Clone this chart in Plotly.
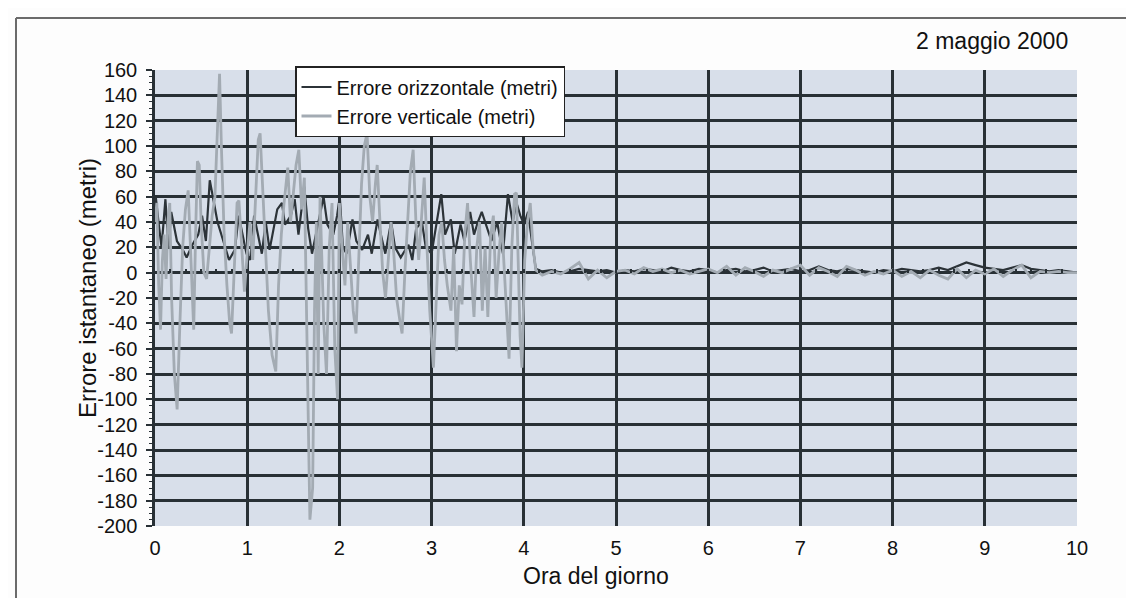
import plotly.graph_objects as go

# ---------------- data ----------------
# Errore orizzontale (metri) - SA attiva fino a ~4.1 h
H_HOURS = [0.0, 0.008, 0.038, 0.071, 0.113, 0.146, 0.176, 0.238, 0.301, 0.343, 0.406, 0.469,
           0.510, 0.552, 0.594, 0.636, 0.678, 0.741, 0.803, 0.866, 0.908, 0.950, 0.992, 1.033,
           1.075, 1.117, 1.159, 1.201, 1.243, 1.326, 1.377, 1.410, 1.473, 1.515, 1.556, 1.619,
           1.661, 1.703, 1.745, 1.828, 1.870, 1.933, 1.975, 2.004, 2.038, 2.079, 2.142, 2.184,
           2.247, 2.310, 2.351, 2.414, 2.456, 2.498, 2.561, 2.603, 2.665, 2.749, 2.791, 2.833,
           2.895, 2.937, 3.000, 3.042, 3.105, 3.146, 3.209, 3.251, 3.314, 3.356, 3.418, 3.460,
           3.502, 3.544, 3.586, 3.649, 3.711, 3.774, 3.828, 3.879, 3.921, 3.962, 4.004, 4.046,
           4.088, 4.130]
H_VALUES = [42, 60, 40, 20, 58, 20, 48, 25, 18, 12, 22, 30,
            45, 25, 73, 55, 40, 25, 10, 18, 45, 30, 15, 10,
            45, 30, 15, 40, 18, 50, 55, 38, 45, 58, 30, 68,
            35, 15, 30, 60, 38, 30, 45, 60, 20, 15, 42, 25,
            18, 30, 15, 42, 28, 15, 40, 20, 12, 22, 10, 35,
            40, 20, 15, 35, 62, 30, 42, 15, 38, 25, 48, 30,
            40, 48, 38, 25, 40, 15, 62, 40, 55, 45, 38, 48,
            25, 3]

# Errore verticale (metri)
V_HOURS = [0.00, 0.02, 0.04, 0.06, 0.08, 0.10, 0.12, 0.14, 0.16, 0.18, 0.21, 0.24, 0.27, 0.30,
           0.33, 0.36, 0.39, 0.42, 0.44, 0.46, 0.48, 0.50, 0.53, 0.56, 0.59, 0.62, 0.65, 0.68,
           0.70, 0.72, 0.75, 0.78, 0.81, 0.83, 0.86, 0.89, 0.91, 0.94, 0.97, 1.00, 1.03, 1.06,
           1.09, 1.12, 1.14, 1.17, 1.20, 1.23, 1.27, 1.31, 1.34, 1.37, 1.40, 1.44, 1.47, 1.50,
           1.53, 1.56, 1.59, 1.62, 1.65, 1.68, 1.71, 1.73, 1.75, 1.77, 1.79, 1.81, 1.83, 1.86,
           1.89, 1.92, 1.95, 1.98, 2.00, 2.03, 2.06, 2.09, 2.12, 2.15, 2.18, 2.21, 2.24, 2.27,
           2.30, 2.33, 2.36, 2.39, 2.41, 2.44, 2.47, 2.50, 2.53, 2.56, 2.59, 2.62, 2.66, 2.68,
           2.71, 2.74, 2.77, 2.80, 2.83, 2.86, 2.89, 2.92, 2.95, 2.98, 3.02, 3.05, 3.08, 3.11,
           3.14, 3.17, 3.21, 3.24, 3.27, 3.30, 3.33, 3.36, 3.39, 3.42, 3.46, 3.49, 3.52, 3.55,
           3.58, 3.61, 3.64, 3.67, 3.70, 3.73, 3.76, 3.79, 3.82, 3.84, 3.87, 3.90, 3.92, 3.94,
           3.96, 3.98, 4.01, 4.04, 4.07, 4.10, 4.13]
V_VALUES = [40, 55, -10, -45, 10, 30, -5, 40, 55, -20, -80, -108, -40, 20,
            50, 65, 10, -45, 30, 88, 85, 40, 0, -5, 20, 45, 60, 120,
            157, 100, 30, -10, -40, -48, 10, 55, 57, 20, -15, 15, 40, 10,
            60, 105, 110, 60, 20, -30, -65, -78, -10, 30, 55, 83, 40, 60,
            85, 97, 50, 75, -60, -195, -170, -30, 40, -80, 60, 10, -40, -80,
            20, 55, -60, -100, 55, 20, -10, 40, 0, -30, -48, 20, 70, 100,
            110, 60, 40, 70, 85, 40, 0, -20, 10, 40, 15, -20, -40, -48,
            0, 45, 80, 97, 40, 10, 45, 75, 20, -30, -75, -20, 30, 40,
            10, -10, -30, 20, -62, -10, -25, 30, 55, 10, -35, 20, 40, -30,
            20, -35, 30, 45, -20, 15, 40, 0, -40, -68, 20, 62, 63, 10,
            -50, -75, 10, 40, 55, 20, 2]

# Dopo la disattivazione della SA (4.2 h -> 10 h)
TAIL_HOURS = [4.2, 4.3, 4.4, 4.5, 4.6, 4.7, 4.8, 4.9, 5.0, 5.1, 5.2, 5.3, 5.4, 5.5, 5.6,
              5.7, 5.8, 5.9, 6.0, 6.1, 6.2, 6.3, 6.4, 6.5, 6.6, 6.7, 6.8, 6.9, 7.0, 7.1,
              7.2, 7.3, 7.4, 7.5, 7.6, 7.7, 7.8, 7.9, 8.0, 8.1, 8.2, 8.3, 8.4, 8.5, 8.6,
              8.7, 8.8, 8.9, 9.0, 9.1, 9.2, 9.3, 9.4, 9.5, 9.6, 9.7, 9.8, 9.9, 10.0]
H_TAIL = [1, 2, 0, 1, 3, 2, 1, 2, 0, 2, 1, 3, 2, 1, 4,
          2, 1, 3, 2, 0, 2, 3, 1, 2, 4, 1, 2, 3, 1, 2,
          5, 2, 1, 3, 2, 1, 0, 2, 1, 3, 2, 1, 2, 4, 2,
          5, 8, 6, 4, 3, 2, 4, 6, 3, 2, 1, 2, 1, 0]
V_TAIL = [-2, 1, -1, 3, 8, -5, 2, -4, 1, 2, -1, 4, 1, 3, 0,
          2, -1, 1, 3, 0, 5, -2, 4, 1, -3, 2, 0, 3, 6, -2,
          4, 1, -3, 5, 2, -2, 1, -1, 2, -3, 1, -4, 2, -2, -5,
          3, -4, 2, -1, 3, -3, 2, 6, -4, 1, 0, 1, 0, 0]

X_TICKS = list(range(0, 11))
Y_TICKS = list(range(-200, 161, 20))
Y_TICK_LABELS = [str(v) for v in Y_TICKS]   # plain hyphen, as in the original
SERIES_NAMES = ["Errore orizzontale (metri)", "Errore verticale (metri)"]
TITLE_TEXT = "2 maggio 2000"
X_TITLE = "Ora del giorno"
Y_TITLE = "Errore istantaneo (metri)"

# ---------------- layout geometry ----------------
W_FIG, H_FIG = 1134, 598
L, R, T, B = 147, 1069, 62, 518
PW, PH = R - L, B - T


def px(p):
    return (p - L) / PW


def py(p):
    return (B - p) / PH


GRID = "#283035"
FONT = "Liberation Sans, Arial, Helvetica, sans-serif"
TXT = "#111111"

fig = go.Figure()
fig.add_trace(go.Scatter(x=H_HOURS + TAIL_HOURS, y=H_VALUES + H_TAIL, mode="lines",
                         name=SERIES_NAMES[0], line=dict(color="#2c3338", width=2.2)))
fig.add_trace(go.Scatter(x=V_HOURS + TAIL_HOURS, y=V_VALUES + V_TAIL, mode="lines",
                         name=SERIES_NAMES[1], line=dict(color="#a3abb3", width=2.8)))
# empty helper traces so that the overlay axes (grid / zero-axis ticks) exist
fig.add_trace(go.Scatter(x=[], y=[], xaxis="x2", yaxis="y2", showlegend=False, hoverinfo="skip"))
fig.add_trace(go.Scatter(x=[], y=[], xaxis="x3", yaxis="y", showlegend=False, hoverinfo="skip"))

fig.update_layout(
    width=W_FIG, height=H_FIG,
    margin=dict(l=L, r=W_FIG - R, t=T, b=H_FIG - B, pad=0),
    paper_bgcolor="#fdfdfd",
    plot_bgcolor="#d8dfea",
    font=dict(family=FONT, color=TXT, size=20),
    showlegend=True,
    legend=dict(x=px(287), y=py(58), xanchor="left", yanchor="top",
                bgcolor="white", bordercolor="#222", borderwidth=1.5,
                font=dict(size=20, family=FONT, color=TXT),
                tracegroupgap=0, itemwidth=30),
    xaxis=dict(range=[0, 10], tickvals=X_TICKS, showgrid=False, zeroline=False,
               showline=False, ticks="", ticklabelstandoff=8,
               tickfont=dict(size=20, family=FONT, color=TXT)),
    yaxis=dict(range=[-200, 160], tickvals=Y_TICKS, ticktext=Y_TICK_LABELS,
               showgrid=False, zeroline=False,
               showline=True, linecolor=GRID, linewidth=2.5,
               ticks="outside", ticklen=6, tickwidth=2, tickcolor=GRID,
               minor=dict(dtick=5, ticks="outside", ticklen=3, tickwidth=1, tickcolor=GRID),
               tickfont=dict(size=20, family=FONT, color=TXT), ticklabelstandoff=5),
    # grid overlays (interior lines only, as in the original)
    xaxis2=dict(overlaying="x", anchor="y2", range=[0, 10], tickvals=X_TICKS[1:-1],
                showgrid=True, gridcolor=GRID, gridwidth=2.5, showticklabels=False,
                ticks="", zeroline=False, showline=False),
    yaxis2=dict(overlaying="y", anchor="x2", range=[-200, 160], tickvals=Y_TICKS[1:-1],
                showgrid=True, gridcolor=GRID, gridwidth=2.5, showticklabels=False,
                ticks="", zeroline=False, showline=False),
    # category axis crossing at zero, with small tick marks
    xaxis3=dict(overlaying="x", anchor="free", position=200 / 360, side="bottom",
                range=[0, 10], tickvals=[i / 6 for i in range(61)], ticks="inside",
                ticklen=4, tickwidth=1.5, tickcolor=GRID, showticklabels=False,
                showgrid=False, zeroline=False, showline=False),
)

fig.add_annotation(text=TITLE_TEXT, xref="paper", yref="paper", x=px(1062), y=py(33),
                   xanchor="right", yanchor="middle", showarrow=False,
                   font=dict(size=23, family=FONT, color=TXT))
fig.add_annotation(text=X_TITLE, xref="paper", yref="paper", x=px(588), y=py(568),
                   xanchor="center", yanchor="middle", showarrow=False,
                   font=dict(size=23, family=FONT, color=TXT))
fig.add_annotation(text=Y_TITLE, xref="paper", yref="paper", x=px(79), y=py(280),
                   xanchor="center", yanchor="middle", textangle=-90, showarrow=False,
                   font=dict(size=24, family=FONT, color=TXT))

# scanned page frame (top and left edges)
fig.add_shape(type="line", xref="paper", yref="paper", x0=px(8), x1=px(1140), y0=py(10), y1=py(10),
              line=dict(color="#6b6b6b", width=2))
fig.add_shape(type="line", xref="paper", yref="paper", x0=px(8), x1=px(8), y0=py(10), y1=py(605),
              line=dict(color="#6b6b6b", width=2))

fig.write_html("out.html")
